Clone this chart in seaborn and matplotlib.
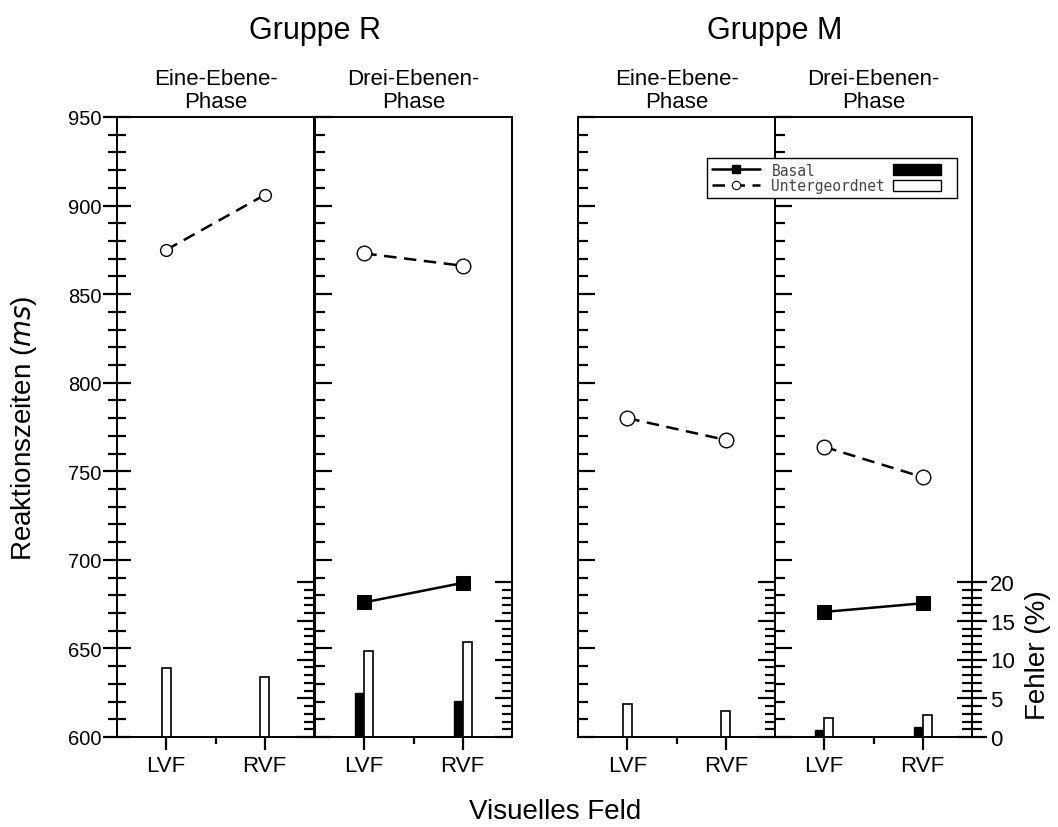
import numpy as np
import pandas as pd
import seaborn as sns
import matplotlib.pyplot as plt
from matplotlib.ticker import MultipleLocator, FixedLocator
from matplotlib.lines import Line2D
from matplotlib.patches import Patch

# Data
fields = ['LVF', 'RVF']
groups = ['Gruppe R', 'Gruppe M']
phases = ['Eine-Ebene-\nPhase', 'Drei-Ebenen-\nPhase']

# reaction times (ms), one list per panel (R-Eine, R-Drei, M-Eine, M-Drei)
rt_basal = [None, [676, 687], None, [670.6, 675.5]]
rt_unter = [[875, 906], [873, 866], [780, 767.7], [763.8, 746.7]]

# error rates (%)
err_basal = [None, [5.7, 4.6], None, [0.94, 1.34]]
err_unter = [[8.9, 7.7], [11.1, 12.2], [4.26, 3.4], [2.4, 2.8]]

sns.set_theme(style='ticks')
plt.rcParams['font.family'] = ['Liberation Sans', 'DejaVu Sans']
plt.rcParams.update({'text.color': 'black', 'axes.labelcolor': 'black',
                     'xtick.color': 'black', 'ytick.color': 'black',
                     'axes.edgecolor': 'black'})

W, H = 1058, 828
fig = plt.figure(figsize=(W / 100, H / 100), dpi=100)

lefts = [117, 315, 578, 775]
pw = 197
top, bot = 118, 738
x = np.arange(len(fields))
bw = 0.09
dash = (0, (5, 3))

for i in range(4):
    ax = fig.add_axes([lefts[i] / W, 1 - bot / H, pw / W, (bot - top) / H])
    ax.set_facecolor('white')
    for s in ax.spines.values():
        s.set_linewidth(1.3)
        s.set_color('black')

    df = pd.DataFrame({'field': x, 'rt': rt_unter[i]})
    msize = 8.5 if i == 0 else 10.5
    sns.lineplot(data=df, x='field', y='rt', ax=ax, color='black', lw=1.8,
                 linestyle=dash, marker='o', markersize=msize,
                 markerfacecolor='white', markeredgecolor='black',
                 markeredgewidth=1.0)
    if rt_basal[i] is not None:
        df = pd.DataFrame({'field': x, 'rt': rt_basal[i]})
        sns.lineplot(data=df, x='field', y='rt', ax=ax, color='black', lw=1.8,
                     marker='s', markersize=10, markerfacecolor='black',
                     markeredgecolor='black')

    ax.set_xlim(-0.5, 1.5)
    ax.set_ylim(600, 950)
    ax.set_xticks(x, fields)
    ax.xaxis.set_minor_locator(FixedLocator([0.5]))
    ax.yaxis.set_major_locator(MultipleLocator(50))
    ax.yaxis.set_minor_locator(MultipleLocator(10))
    ax.set_xlabel('')
    ax.set_ylabel('')
    ax.tick_params(axis='x', which='major', direction='out', length=9,
                   width=1.6, labelsize=16, pad=4)
    ax.tick_params(axis='x', which='minor', direction='out', length=5,
                   width=1.6)
    if i == 0:
        ax.tick_params(axis='y', which='major', direction='inout', length=20,
                       width=1.6, labelsize=14.5, pad=1)
        ax.tick_params(axis='y', which='minor', direction='inout', length=13,
                       width=1.6)
    else:
        ax.tick_params(axis='y', which='major', direction='in', length=12,
                       width=1.6, labelleft=False)
        ax.tick_params(axis='y', which='minor', direction='in', length=7,
                       width=1.6)

    # error axis
    ax2 = ax.twinx()
    ax2.set_ylim(0, 80)
    ax2.yaxis.set_major_locator(FixedLocator(range(0, 21, 5)))
    ax2.yaxis.set_minor_locator(FixedLocator(range(0, 21)))
    ax2.set_ylabel('')
    if i == 3:
        ax2.tick_params(axis='y', which='major', direction='inout', length=22,
                        width=1.6, labelsize=16, pad=2)
        ax2.tick_params(axis='y', which='minor', direction='inout', length=14,
                        width=1.6)
    else:
        ax2.tick_params(axis='y', which='major', direction='in', length=12,
                        width=1.6, labelright=False)
        ax2.tick_params(axis='y', which='minor', direction='in', length=7,
                        width=1.6)

    if err_basal[i] is not None:
        ax2.bar(x - bw / 2, err_basal[i], width=bw, color='black',
                edgecolor='black', lw=1.0)
        ax2.bar(x + bw / 2, err_unter[i], width=bw, color='white',
                edgecolor='black', lw=1.2)
    else:
        ax2.bar(x, err_unter[i], width=bw, color='white',
                edgecolor='black', lw=1.2)
    ax2.set_xlim(-0.5, 1.5)

    cx = (lefts[i] + pw / 2) / W
    fig.text(cx, 1 - 91 / H, phases[i % 2], ha='center', va='center',
             fontsize=16, linespacing=1.1)

fig.text(lefts[1] / W, 1 - 31 / H, groups[0], ha='center', va='center', fontsize=22)
fig.text(lefts[3] / W, 1 - 31 / H, groups[1], ha='center', va='center', fontsize=22)

fig.text(24 / W, 1 - 428 / H, 'Reaktionszeiten ($\\mathit{ms}$)', rotation=90,
         ha='center', va='center', fontsize=20)
fig.text(1038 / W, 1 - 655 / H, 'Fehler (%)', rotation=90,
         ha='center', va='center', fontsize=20)
fig.text(555 / W, 1 - 812 / H, 'Visuelles Feld', ha='center', va='center',
         fontsize=20)

handles = [
    Line2D([], [], color='black', lw=1.8, marker='s', markersize=6,
           markerfacecolor='black'),
    Line2D([], [], color='black', lw=1.8, linestyle=dash, marker='o',
           markersize=6, markerfacecolor='white', markeredgewidth=0.8),
    Patch(facecolor='black', edgecolor='black'),
    Patch(facecolor='white', edgecolor='black', lw=1.0),
]
labels = ['Basal', 'Untergeordnet', '', '']
leg = fig.legend(handles, labels, ncol=2, loc='upper right',
                 bbox_to_anchor=(964 / W, 1 - 152 / H), frameon=True,
                 fancybox=False, framealpha=1, edgecolor='black',
                 prop={'family': 'DejaVu Sans Mono', 'size': 10.5},
                 labelcolor='#444444', handlelength=3.3, handleheight=0.8,
                 handletextpad=0.8, columnspacing=0.5, labelspacing=0.05,
                 borderpad=0.3)
leg.get_frame().set_linewidth(1.0)

fig.savefig('out.png', dpi=100)
